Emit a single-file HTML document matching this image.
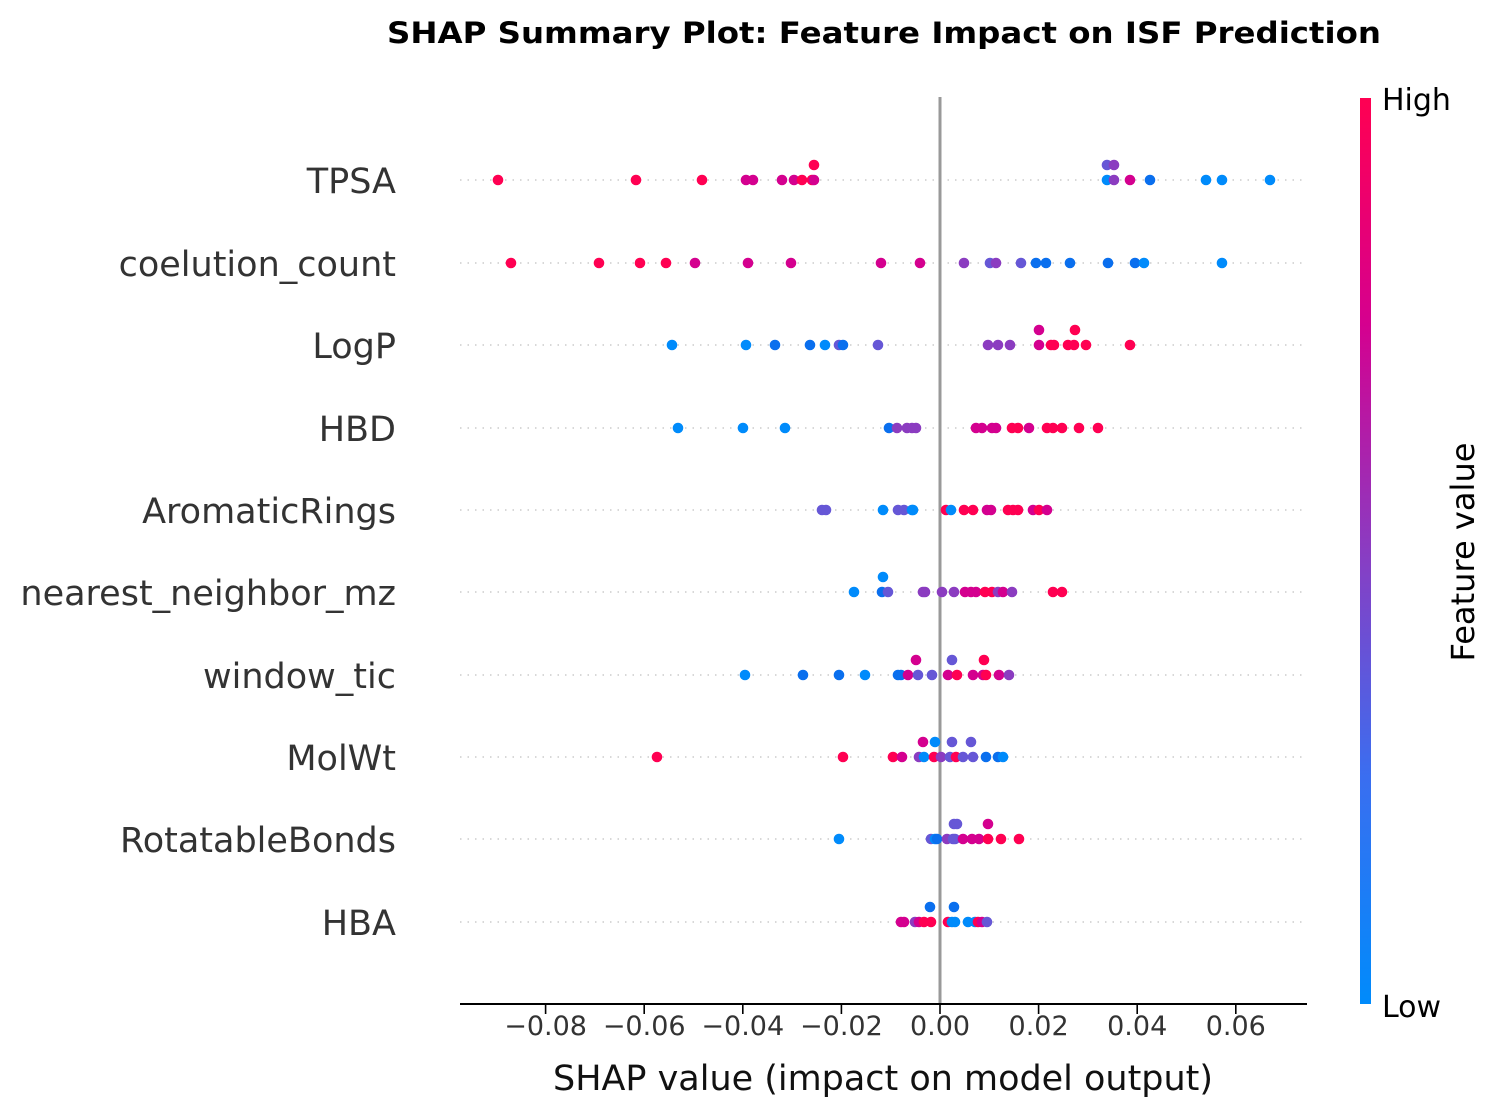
<!DOCTYPE html>
<html><head><meta charset="utf-8"><style>
html,body{margin:0;padding:0;background:#fff;}
svg{display:block;font-family:"DejaVu Sans","Liberation Sans",sans-serif;}
</style></head><body>
<svg id="s" width="1500" height="1117" viewBox="0 0 1500 1117" xmlns="http://www.w3.org/2000/svg">
<defs>
<linearGradient id="cb" x1="0" y1="1" x2="0" y2="0">
<stop offset="0" stop-color="#008bfb"/>
<stop offset="0.25" stop-color="#3a6ef0"/>
<stop offset="0.5" stop-color="#8a3cc2"/>
<stop offset="0.75" stop-color="#d5008f"/>
<stop offset="1" stop-color="#ff0052"/>
</linearGradient>
</defs>
<text x="884" y="43" text-anchor="middle" font-weight="bold" font-size="29" textLength="994" lengthAdjust="spacingAndGlyphs">SHAP Summary Plot: Feature Impact on ISF Prediction</text>
<g id="grid" stroke="#cccccc" stroke-width="1.6" stroke-dasharray="1.5,6"></g>
<line x1="940" y1="97" x2="940" y2="1004" stroke="#999" stroke-width="3"/>
<g id="dots"></g>
<line x1="460" y1="1004" x2="1307" y2="1004" stroke="#000" stroke-width="2"/>
<g id="ticks" font-size="27" fill="#333" text-anchor="middle"></g>
<text x="883" y="1090" text-anchor="middle" font-size="35" fill="#111" textLength="660" lengthAdjust="spacingAndGlyphs">SHAP value (impact on model output)</text>
<g id="labels" font-size="35" fill="#333" text-anchor="end"></g>
<rect x="1360" y="98" width="11" height="906" fill="url(#cb)"/>
<text x="1382" y="110" font-size="30">High</text>
<text x="1382" y="1017" font-size="30">Low</text>
<text transform="translate(1474,552) rotate(-90)" text-anchor="middle" font-size="32" textLength="219" lengthAdjust="spacingAndGlyphs">Feature value</text>
</svg>
<script>
var C={R:"#ff0052",M:"#d4008f",P:"#8b3cc0",V:"#6657d6",B:"#0a6fee",L:"#008bfb"};
var rows=[
["TPSA",180,[[498,"R"],[636,"R"],[702,"R"],[746,"M"],[753,"M"],[782,"M"],[794,"M"],[802,"R"],[812,"R"],[814,"M"],[814,"R",-15],[1107,"L"],[1107,"V",-15],[1114,"P",-15],[1114,"P"],[1130,"M"],[1150,"B"],[1206,"L"],[1222,"L"],[1270,"L"]]],
["coelution_count",263,[[511,"R"],[599,"R"],[640,"R"],[666,"R"],[695,"M"],[748,"M"],[791,"M"],[881,"M"],[920,"M"],[964,"P"],[990,"V"],[996,"P"],[1021,"V"],[1036,"B"],[1046,"B"],[1070,"B"],[1108,"B"],[1135,"B"],[1144,"L"],[1222,"L"]]],
["LogP",345,[[672,"L"],[746,"L"],[775,"B"],[810,"B"],[825,"L"],[839,"V"],[843,"B"],[878,"V"],[988,"P"],[998,"P"],[1010,"P"],[1039,"M"],[1051,"R"],[1054,"R"],[1068,"R"],[1074,"R"],[1086,"R"],[1130,"R"],[1039,"M",-15],[1075,"R",-15]]],
["HBD",428,[[678,"L"],[743,"L"],[785,"L"],[889,"B"],[897,"P"],[907,"P"],[912,"P"],[916,"P"],[976,"M"],[982,"M"],[992,"M"],[996,"M"],[1012,"R"],[1018,"R"],[1029,"M"],[1047,"R"],[1053,"R"],[1062,"R"],[1079,"R"],[1098,"R"]]],
["AromaticRings",510,[[822,"V"],[826,"V"],[883,"L"],[898,"V"],[904,"V"],[912,"L"],[913,"L"],[946,"R"],[951,"L"],[964,"R"],[973,"R"],[987,"M"],[991,"M"],[1008,"R"],[1013,"R"],[1018,"R"],[1033,"M"],[1039,"R"],[1047,"M"]]],
["nearest_neighbor_mz",592,[[883,"L",-15],[854,"L"],[882,"B"],[888,"V"],[923,"P"],[925,"P"],[942,"P"],[954,"P"],[965,"M"],[971,"M"],[976,"M"],[985,"R"],[992,"R"],[998,"P"],[1003,"M"],[1012,"P"],[1053,"R"],[1062,"R"]]],
["window_tic",675,[[916,"M",-15],[952,"V",-15],[984,"R",-15],[745,"L"],[803,"B"],[839,"B"],[865,"L"],[898,"B"],[901,"B"],[908,"M"],[918,"V"],[932,"V"],[948,"M"],[957,"R"],[973,"M"],[983,"M"],[986,"R"],[999,"M"],[1009,"P"]]],
["MolWt",757,[[923,"M",-15],[935,"L",-15],[952,"V",-15],[971,"V",-15],[657,"R"],[843,"R"],[893,"R"],[902,"M"],[919,"P"],[924,"L"],[934,"R"],[941,"P"],[950,"V"],[956,"R"],[963,"V"],[973,"V"],[986,"B"],[998,"B"],[1003,"L"]]],
["RotatableBonds",839,[[954,"V",-15],[957,"V",-15],[988,"M",-15],[839,"L"],[931,"V"],[935,"L"],[937,"B"],[947,"P"],[953,"V"],[955,"V"],[963,"M"],[972,"M"],[979,"M"],[988,"R"],[1001,"R"],[1019,"R"]]],
["HBA",922,[[930,"B",-15],[954,"B",-15],[901,"M"],[904,"M"],[915,"P"],[919,"M"],[924,"R"],[931,"R"],[948,"R"],[952,"L"],[955,"L"],[968,"L"],[975,"L"],[978,"R"],[982,"M"],[987,"V"]]]
];
var ns="http://www.w3.org/2000/svg";
function el(t,a,p){var e=document.createElementNS(ns,t);for(var k in a)e.setAttribute(k,a[k]);document.getElementById(p).appendChild(e);return e;}
rows.forEach(function(r){
 el("line",{x1:460,y1:r[1],x2:1307,y2:r[1]},"grid");
 var t=el("text",{x:396,y:r[1]+13},"labels");t.textContent=r[0];
 r[2].forEach(function(d){el("circle",{cx:d[0],cy:r[1]+(d[2]||0),r:5.3,fill:C[d[1]]},"dots");});
});
[-0.08,-0.06,-0.04,-0.02,0,0.02,0.04,0.06].forEach(function(v){
 var x=940+v/0.02*98.6;
 el("line",{x1:x,y1:1004,x2:x,y2:1014,stroke:"#000","stroke-width":1.6},"ticks");
 var t=el("text",{x:x,y:1035},"ticks");t.textContent=(v<0?"\u2212":"")+Math.abs(v).toFixed(2);
});
</script>
</body></html>
